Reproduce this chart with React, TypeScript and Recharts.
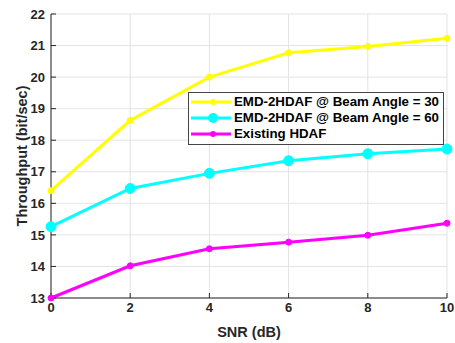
import { CartesianGrid, Line, LineChart, XAxis, YAxis } from 'recharts';

const snr = [0, 2, 4, 6, 8, 10];
const beam30 = [16.4, 18.63, 20.0, 20.77, 20.97, 21.23];
const beam60 = [15.26, 16.47, 16.95, 17.35, 17.57, 17.72];
const existing = [13.0, 14.02, 14.56, 14.77, 14.99, 15.37];
const yTicks = [13, 14, 15, 16, 17, 18, 19, 20, 21, 22];

const seriesInfo = [
  { key: 'b30', name: 'EMD-2HDAF @ Beam Angle = 30', color: '#ffff00', r: 3 },
  { key: 'b60', name: 'EMD-2HDAF @ Beam Angle = 60', color: '#00ffff', r: 5 },
  { key: 'ex', name: 'Existing HDAF', color: '#ff00ff', r: 3 },
];

const data = snr.map((s, i) => ({ snr: s, b30: beam30[i], b60: beam60[i], ex: existing[i] }));

const FONT = '"Liberation Sans", Arial, sans-serif';
const tickStyle = { fontSize: 13, fontWeight: 700, fill: '#262626', fontFamily: FONT };

// legend drawn as a plain box on top of the chart, like matlab's
function LegendBox() {
  return (
    <div
      style={{
        position: 'absolute',
        left: 188,
        top: 92,
        background: '#fff',
        border: '1px solid #444',
        padding: '1px 4px 2px 2px',
        fontFamily: FONT,
        fontWeight: 700,
        fontSize: 13.3,
        color: '#000',
        lineHeight: '16px',
      }}
    >
      {seriesInfo.map((s) => (
        <div key={s.key} style={{ display: 'flex', alignItems: 'center' }}>
          <svg width={40} height={16} style={{ marginRight: 3 }}>
            <line x1={0} y1={8} x2={40} y2={8} stroke={s.color} strokeWidth={3} />
            <circle cx={22} cy={8} r={s.r} fill={s.color} />
          </svg>
          <span>{s.name}</span>
        </div>
      ))}
    </div>
  );
}

export default function App() {
  return (
    <div style={{ position: 'fixed', left: 0, top: 0, width: 455, height: 343, background: '#fff' }}>
      <LineChart width={455} height={343} data={data} margin={{ top: 14, right: 8, left: 0, bottom: 0 }}>
        <CartesianGrid stroke="#e3e3e3" strokeWidth={1} xAxisId="b" yAxisId="l" />
        <XAxis
          xAxisId="b"
          dataKey="snr"
          type="number"
          domain={[0, 10]}
          ticks={snr}
          interval={0}
          height={45}
          stroke="#262626"
          tickSize={-5}
          tickMargin={10}
          tick={tickStyle}
          label={{ value: 'SNR (dB)', position: 'insideBottom', offset: 6, style: { ...tickStyle, fontSize: 14.5 } }}
        />
        <XAxis
          xAxisId="t"
          orientation="top"
          dataKey="snr"
          type="number"
          domain={[0, 10]}
          ticks={snr}
          interval={0}
          height={0}
          stroke="#262626"
          tickSize={-5}
          tickFormatter={() => ''}
        />
        <YAxis
          yAxisId="l"
          domain={[13, 22]}
          ticks={yTicks}
          interval={0}
          width={51}
          stroke="#262626"
          tickSize={-5}
          tickMargin={11}
          tick={tickStyle}
          label={{ value: 'Throughput (bit/sec)', angle: -90, position: 'insideLeft', offset: 22, style: { ...tickStyle, fontSize: 14.5, textAnchor: 'middle' } }}
        />
        <YAxis
          yAxisId="r"
          orientation="right"
          domain={[13, 22]}
          ticks={yTicks}
          interval={0}
          width={0}
          stroke="#262626"
          tickSize={-5}
          tickFormatter={() => ''}
        />
        {seriesInfo.map((s) => (
          <Line
            key={s.key}
            xAxisId="b"
            yAxisId="l"
            dataKey={s.key}
            name={s.name}
            type="linear"
            stroke={s.color}
            strokeWidth={3}
            dot={{ r: s.r, fill: s.color, stroke: s.color, strokeWidth: 1 }}
            isAnimationActive={false}
          />
        ))}
      </LineChart>
      <LegendBox />
    </div>
  );
}
